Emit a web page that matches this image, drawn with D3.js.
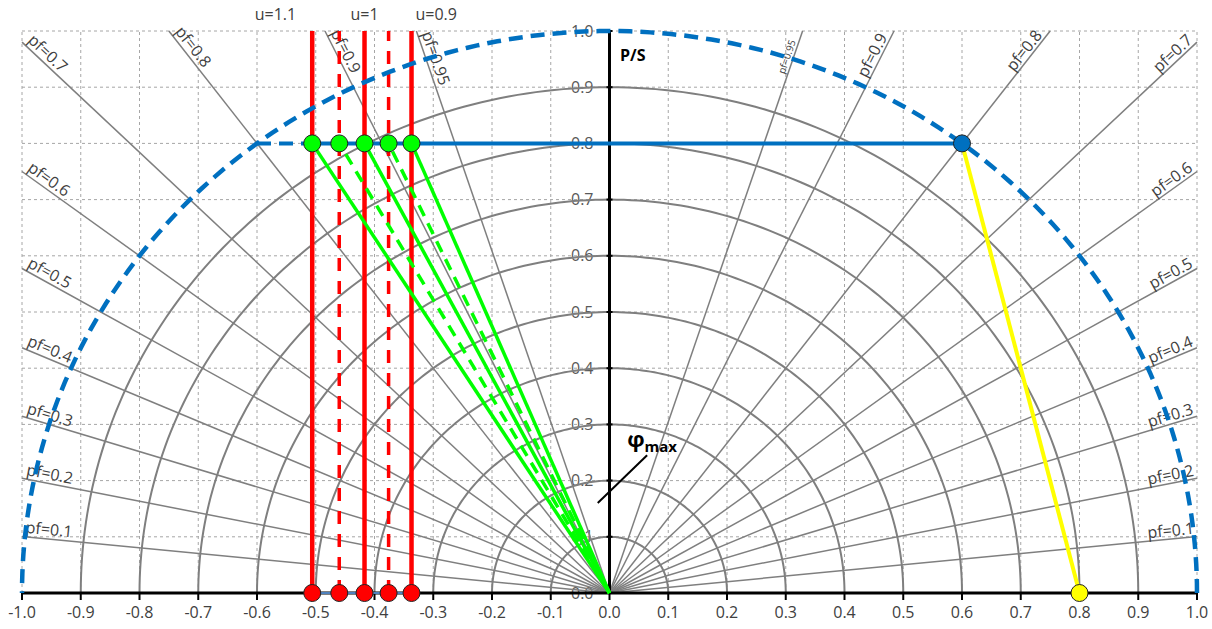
<!DOCTYPE html>
<html>
<head>
<meta charset="utf-8">
<script src="https://cdn.jsdelivr.net/npm/d3@7"></script>
<style>
  body { margin: 0; background: #fff; }
  svg text { font-family: "Open Sans", "Noto Sans", sans-serif; }
</style>
</head>
<body>
<div id="chart"></div>
<script>
// ---- values ----
const xTicks = [-1.0, -0.9, -0.8, -0.7, -0.6, -0.5, -0.4, -0.3, -0.2, -0.1, 0.0, 0.1, 0.2, 0.3, 0.4, 0.5, 0.6, 0.7, 0.8, 0.9, 1.0];
const yTicks = [0.0, 0.1, 0.2, 0.3, 0.4, 0.5, 0.6, 0.7, 0.8, 0.9, 1.0];
const circleRadii = [0.1, 0.2, 0.3, 0.4, 0.5, 0.6, 0.7, 0.8, 0.9];
const limitRadius = 1.0;
const pfValues = [0.1, 0.2, 0.3, 0.4, 0.5, 0.6, 0.7, 0.8, 0.9, 0.95];
const pfLabels = ["pf=0.1", "pf=0.2", "pf=0.3", "pf=0.4", "pf=0.5", "pf=0.6", "pf=0.7", "pf=0.8", "pf=0.9", "pf=0.95"];

// voltage lines (u = 1.1, 1.05, 1, 0.95, 0.9)
const uX = [-0.506, -0.46, -0.417, -0.376, -0.337];
const uDashed = [false, true, false, true, false];
const uLabels = ["u=1.1", "", "u=1", "", "u=0.9"];

const pLevel = 0.8;          // P/S of the operating points
const pLineStart = -0.6;     // where the dashed part of the P line starts
const loadPoint = [0.6, 0.8];
const qPoint = [0.8, 0.0];
const phiPointer = [[-0.02, 0.16], [0.064, 0.245]];
const phiLabelAt = [0.03, 0.26];
const psLabelAt = [0.018, 0.947];

// ---- layout ----
const W = 1212, H = 629;
const x = d3.scaleLinear().domain([-1, 1]).range([22, 1197]);
const y = d3.scaleLinear().domain([0, 1]).range([593, 31]);

const svg = d3.select("#chart").append("svg")
    .attr("width", W)
    .attr("height", H);

const gray = "#7f7f7f";
const blue = "#0070c0";
const fmt = d => d.toFixed(1);

// grid
svg.append("g").selectAll("line")
    .data(xTicks)
    .enter().append("line")
    .attr("x1", d => x(d)).attr("x2", d => x(d))
    .attr("y1", y(0)).attr("y2", y(1))
    .attr("stroke", "#a6a6a6").attr("stroke-width", 1)
    .attr("stroke-dasharray", "3,3");

svg.append("g").selectAll("line")
    .data(yTicks.filter(d => d > 0))
    .enter().append("line")
    .attr("x1", x(-1)).attr("x2", x(1))
    .attr("y1", d => y(d)).attr("y2", d => y(d))
    .attr("stroke", "#a6a6a6").attr("stroke-width", 1)
    .attr("stroke-dasharray", "3,3");

// y tick labels sit under the drawing
svg.append("g").selectAll("text")
    .data(yTicks)
    .enter().append("text")
    .attr("x", x(0) - 16)
    .attr("y", d => y(d))
    .attr("dy", "0.35em")
    .attr("text-anchor", "end")
    .attr("font-size", 16)
    .attr("fill", "#595959")
    .text(fmt);

// circles of constant S
const angles = d3.range(0, 181).map(a => a * Math.PI / 180);
const arcLine = r => d3.line()
    .x(a => x(r * Math.cos(a)))
    .y(a => y(r * Math.sin(a)))(angles);

svg.append("g").selectAll("path")
    .data(circleRadii)
    .enter().append("path")
    .attr("d", arcLine)
    .attr("fill", "none")
    .attr("stroke", gray)
    .attr("stroke-width", 2);

// power factor rays, clipped to the plot box
function rayEnd(pf, side) {
    const dx = Math.sqrt(1 - pf * pf), dy = pf;
    const t = Math.min(1 / dx, 1 / dy);
    return [side * dx * t, dy * t];
}
const rays = [];
pfValues.forEach((pf, i) => {
    rays.push({pf: pf, label: pfLabels[i], side: -1, end: rayEnd(pf, -1)});
    rays.push({pf: pf, label: pfLabels[i], side: 1, end: rayEnd(pf, 1)});
});

svg.append("g").selectAll("line")
    .data(rays)
    .enter().append("line")
    .attr("x1", x(0)).attr("y1", y(0))
    .attr("x2", d => x(d.end[0])).attr("y2", d => y(d.end[1]))
    .attr("stroke", gray)
    .attr("stroke-width", 1.5);

svg.append("g").selectAll("text")
    .data(rays)
    .enter().append("text")
    .attr("transform", d => {
        const ex = x(d.end[0]), ey = y(d.end[1]);
        let ang;
        if (d.side < 0) ang = Math.atan2(y(0) - ey, x(0) - ex);
        else ang = Math.atan2(ey - y(0), ex - x(0));
        return `translate(${ex},${ey}) rotate(${ang * 180 / Math.PI})`;
    })
    .attr("x", d => {
        const top = d.end[1] >= 0.999;
        if (d.side < 0) return top ? 4 : 3;
        if (d.pf === 0.95) return -12;
        return top ? -8 : -2;
    })
    .attr("y", d => d.side < 0 ? -4 : -3)
    .attr("text-anchor", d => d.side < 0 ? "start" : "end")
    .attr("font-size", d => (d.side > 0 && d.pf === 0.95) ? 10 : 16)
    .attr("fill", "#404040")
    .text(d => d.label);

// axes
const axisG = svg.append("g");
axisG.append("line")
    .attr("x1", x(-1)).attr("x2", x(1))
    .attr("y1", y(0)).attr("y2", y(0))
    .attr("stroke", "#000").attr("stroke-width", 3);
axisG.selectAll(".xt")
    .data(xTicks)
    .enter().append("line")
    .attr("x1", d => x(d)).attr("x2", d => x(d))
    .attr("y1", y(0)).attr("y2", y(0) + 7)
    .attr("stroke", "#000").attr("stroke-width", 2);
axisG.append("line")
    .attr("x1", x(0)).attr("x2", x(0))
    .attr("y1", y(0)).attr("y2", y(1))
    .attr("stroke", "#000").attr("stroke-width", 3);
axisG.selectAll(".yt")
    .data(yTicks)
    .enter().append("line")
    .attr("x1", x(0) - 3).attr("x2", x(0) + 3)
    .attr("y1", d => y(d)).attr("y2", d => y(d))
    .attr("stroke", "#000").attr("stroke-width", 2);
axisG.selectAll("text")
    .data(xTicks)
    .enter().append("text")
    .attr("x", d => x(d))
    .attr("y", y(0) + 25)
    .attr("text-anchor", "middle")
    .attr("font-size", 16)
    .attr("fill", "#404040")
    .text(fmt);

// voltage lines
svg.append("g").selectAll("line")
    .data(uX)
    .enter().append("line")
    .attr("x1", d => x(d)).attr("x2", d => x(d))
    .attr("y1", y(0)).attr("y2", y(1))
    .attr("stroke", "#ff0000")
    .attr("stroke-width", (d, i) => uDashed[i] ? 3.5 : 4.5)
    .attr("stroke-dasharray", (d, i) => uDashed[i] ? "13,10" : null);

const uText = uX.map((d, i) => ({x: d, label: uLabels[i], i: i}))
    .filter(d => d.label !== "");
svg.append("g").selectAll("text")
    .data(uText)
    .enter().append("text")
    .attr("x", d => d.i === 0 ? x(d.x) - 16 : (d.i === 4 ? x(d.x) + 4 : x(d.x)))
    .attr("y", 20)
    .attr("text-anchor", d => d.i === 0 ? "end" : (d.i === 4 ? "start" : "middle"))
    .attr("font-size", 16)
    .attr("fill", "#404040")
    .text(d => d.label);

// S limit circle
svg.append("path")
    .attr("d", arcLine(limitRadius))
    .attr("fill", "none")
    .attr("stroke", blue)
    .attr("stroke-width", 4.5)
    .attr("stroke-dasharray", "14,8");

// constant P line
svg.append("line")
    .attr("x1", x(pLineStart)).attr("x2", x(uX[0]))
    .attr("y1", y(pLevel)).attr("y2", y(pLevel))
    .attr("stroke", blue).attr("stroke-width", 4)
    .attr("stroke-dasharray", "14,8");
svg.append("line")
    .attr("x1", x(uX[0])).attr("x2", x(loadPoint[0]))
    .attr("y1", y(pLevel)).attr("y2", y(pLevel))
    .attr("stroke", blue).attr("stroke-width", 4);

// lines from origin to the operating points
svg.append("g").selectAll("line")
    .data(uX)
    .enter().append("line")
    .attr("x1", x(0)).attr("y1", y(0))
    .attr("x2", d => x(d)).attr("y2", y(pLevel))
    .attr("stroke", "#00ff00")
    .attr("stroke-width", 3.5)
    .attr("stroke-dasharray", (d, i) => uDashed[i] ? "12,8" : null);

// load point to reactive point
svg.append("line")
    .attr("x1", x(loadPoint[0])).attr("y1", y(loadPoint[1]))
    .attr("x2", x(qPoint[0])).attr("y2", y(qPoint[1]))
    .attr("stroke", "#ffff00").attr("stroke-width", 4);

// thin line joining the base markers
svg.append("line")
    .attr("x1", x(uX[0])).attr("x2", x(uX[uX.length - 1]))
    .attr("y1", y(0)).attr("y2", y(0))
    .attr("stroke", "#4f81bd").attr("stroke-width", 2);

// markers
const dot = (sel, fill) => sel
    .attr("r", 8.5)
    .attr("fill", fill)
    .attr("stroke", "#222")
    .attr("stroke-width", 1);

svg.append("g").selectAll("circle")
    .data(uX)
    .enter().append("circle")
    .attr("cx", d => x(d)).attr("cy", y(0))
    .call(dot, "#ff0000");

svg.append("g").selectAll("circle")
    .data(uX)
    .enter().append("circle")
    .attr("cx", d => x(d)).attr("cy", y(pLevel))
    .call(dot, "#00ff00");

svg.append("circle")
    .attr("cx", x(loadPoint[0])).attr("cy", y(loadPoint[1]))
    .call(dot, blue);
svg.append("circle")
    .attr("cx", x(qPoint[0])).attr("cy", y(qPoint[1]))
    .call(dot, "#ffff00");

// annotations
svg.append("text")
    .attr("x", x(psLabelAt[0])).attr("y", y(psLabelAt[1]))
    .attr("font-size", 16)
    .attr("font-weight", "bold")
    .attr("fill", "#000")
    .text("P/S");

svg.append("line")
    .attr("x1", x(phiPointer[0][0])).attr("y1", y(phiPointer[0][1]))
    .attr("x2", x(phiPointer[1][0])).attr("y2", y(phiPointer[1][1]))
    .attr("stroke", "#000").attr("stroke-width", 2);

const phi = svg.append("text")
    .attr("x", x(phiLabelAt[0])).attr("y", y(phiLabelAt[1]))
    .attr("font-weight", "bold")
    .attr("fill", "#000");
phi.append("tspan").attr("font-size", 22).text("φ");
phi.append("tspan").attr("font-size", 15).attr("dy", 5).text("max");
</script>
</body>
</html>
